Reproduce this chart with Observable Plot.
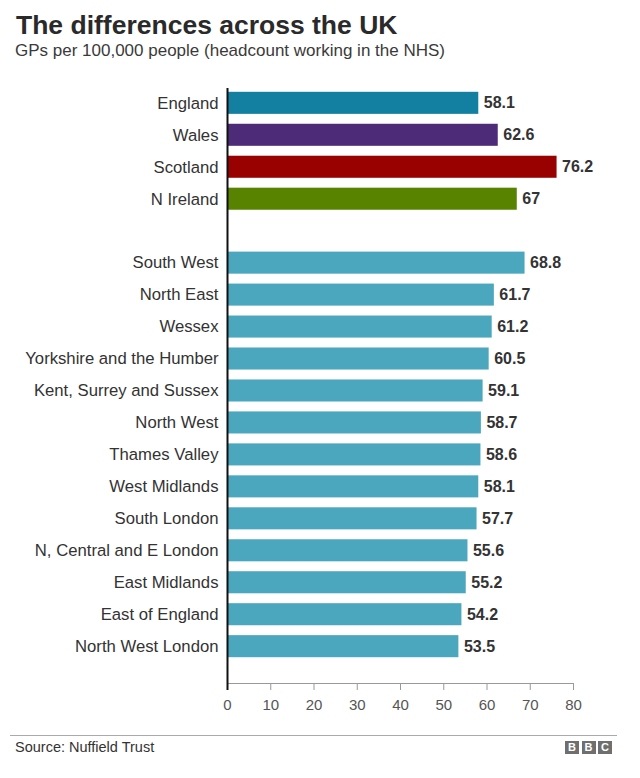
<!DOCTYPE html>
<html>
<head>
<meta charset="utf-8">
<script src="https://cdn.jsdelivr.net/npm/d3@7"></script>
<script src="https://cdn.jsdelivr.net/npm/@observablehq/plot@0.6"></script>
<style>
  body { margin: 0; background: #fff; font-family: "Liberation Sans", Arial, Helvetica, sans-serif; }
  #wrap { position: relative; width: 640px; height: 778px; overflow: hidden; }
  #title { position: absolute; left: 16px; top: 10px; font-size: 26.5px; font-weight: bold; color: #2a2a2a; line-height: 30px; white-space: nowrap; }
  #subtitle { position: absolute; left: 15px; top: 41px; font-size: 17px; color: #3a3a3a; line-height: 20px; white-space: nowrap; }
  #chart { position: absolute; left: 0; top: 70px; }
  #footline { position: absolute; left: 10px; top: 735px; width: 607px; height: 0; border-top: 1px solid #aaa; }
  #source { position: absolute; left: 15px; top: 739px; font-size: 14.5px; color: #333; line-height: 16px; }
  #bbc { position: absolute; left: 565px; top: 741px; display: flex; gap: 2.5px; }
  #bbc span { display: block; width: 14px; height: 13px; background: #6f6f6f; color: #fff; font-weight: bold; font-size: 11px; line-height: 13px; text-align: center; }
</style>
</head>
<body>
<div id="wrap">
  <div id="title">The differences across the UK</div>
  <div id="subtitle">GPs per 100,000 people (headcount working in the NHS)</div>
  <div id="chart"></div>
  <div id="footline"></div>
  <div id="source">Source: Nuffield Trust</div>
  <div id="bbc"><span>B</span><span>B</span><span>C</span></div>
</div>
<script>
const nations = ["England", "Wales", "Scotland", "N Ireland"];
const nationValues = [58.1, 62.6, 76.2, 67];
const nationColors = ["#1380A1", "#4E2B78", "#990000", "#588300"];

const regions = [
  "South West", "North East", "Wessex", "Yorkshire and the Humber",
  "Kent, Surrey and Sussex", "North West", "Thames Valley", "West Midlands",
  "South London", "N, Central and E London", "East Midlands",
  "East of England", "North West London"
];
const regionValues = [68.8, 61.7, 61.2, 60.5, 59.1, 58.7, 58.6, 58.1, 57.7, 55.6, 55.2, 54.2, 53.5];
const regionColor = "#4BA7BD";

const xTicks = [0, 10, 20, 30, 40, 50, 60, 70, 80];
const spacer = " ";

const data = [
  ...nations.map((name, i) => ({ name, value: nationValues[i], color: nationColors[i] })),
  ...regions.map((name, i) => ({ name, value: regionValues[i], color: regionColor }))
];
const yDomain = [...nations, spacer, ...regions];

const chart = Plot.plot({
  width: 640,
  height: 655,
  marginLeft: 227,
  marginRight: 67,
  marginTop: 18,
  marginBottom: 42,
  style: { fontFamily: "'Liberation Sans', Arial, Helvetica, sans-serif", background: "#fff" },
  x: { domain: [0, 80], ticks: xTicks },
  y: { domain: yDomain, range: [21.8, 587.2], paddingInner: 0.31, paddingOuter: 0, round: false },
  color: { type: "identity" },
  marks: [
    Plot.barX(data, { x: "value", y: "name", fill: "color" }),
    Plot.text(data, {
      x: "value", y: "name", text: d => String(d.value),
      dx: 5, textAnchor: "start", fontWeight: "bold", fontSize: 16, fill: "#333"
    }),
    Plot.frame({ anchor: "bottom", stroke: "#999" }),
    Plot.axisX({ ticks: xTicks, tickSize: 7, tickPadding: 9, stroke: "#999", fill: "#555", fontSize: 15, label: null }),
    Plot.ruleX([0], { stroke: "#111", strokeWidth: 2, insetBottom: -7 }),
    Plot.axisY({ tickSize: 0, tickPadding: 9, fill: "#333", fontSize: 16.7, label: null })
  ]
});
document.getElementById("chart").appendChild(chart);
</script>
</body>
</html>
